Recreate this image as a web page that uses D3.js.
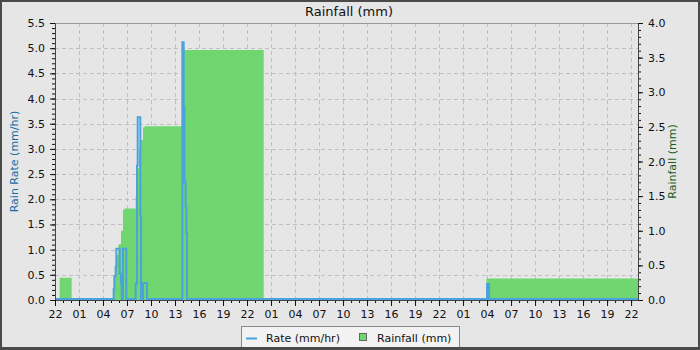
<!DOCTYPE html>
<html>
<head>
<meta charset="utf-8">
<script src="https://cdn.jsdelivr.net/npm/d3@7"></script>
<style>
  body { margin: 0; background: #e6e6e6; }
  text { font-family: "DejaVu Sans", sans-serif; }
</style>
</head>
<body>
<div id="container"></div>
<script>
// rain rate readings (mm/hr), left axis
const rateTimes = [
  "2024-01-01 22:00", "2024-01-02 05:15", "2024-01-02 05:20", "2024-01-02 05:25",
  "2024-01-02 05:35", "2024-01-02 05:40", "2024-01-02 06:00", "2024-01-02 06:05",
  "2024-01-02 06:15", "2024-01-02 06:20", "2024-01-02 06:30", "2024-01-02 06:50",
  "2024-01-02 06:55", "2024-01-02 08:00", "2024-01-02 08:05", "2024-01-02 08:15",
  "2024-01-02 08:20", "2024-01-02 08:35", "2024-01-02 08:40", "2024-01-02 08:45",
  "2024-01-02 09:00", "2024-01-02 09:25", "2024-01-02 09:30", "2024-01-02 13:50",
  "2024-01-02 13:55", "2024-01-02 14:05", "2024-01-02 14:10", "2024-01-02 14:20",
  "2024-01-02 14:25", "2024-01-02 14:30", "2024-01-04 03:55", "2024-01-04 04:00",
  "2024-01-04 04:10", "2024-01-04 04:15", "2024-01-04 22:52"
];
const rateValues = [
  0, 0, 0.2, 0.45,
  0.63, 1.0, 1.0, 0.5,
  0.3, 0, 1.0, 1.0,
  0, 0, 0.3, 2.65,
  3.61, 3.61, 1.65, 0,
  0.32, 0.32, 0, 0,
  5.1, 3.81, 2.32, 1.82,
  1.31, 0, 0, 0.3,
  0.3, 0, 0
];

// daily rainfall accumulation (mm), right axis, drawn as steps
const rainTimes = [
  "2024-01-01 22:35", "2024-01-02 00:05", "2024-01-02 05:15", "2024-01-02 05:25",
  "2024-01-02 05:30", "2024-01-02 05:40", "2024-01-02 05:55", "2024-01-02 06:00",
  "2024-01-02 06:15", "2024-01-02 06:30", "2024-01-02 06:40", "2024-01-02 08:05",
  "2024-01-02 08:15", "2024-01-02 08:30", "2024-01-02 08:45", "2024-01-02 09:00",
  "2024-01-02 09:10", "2024-01-02 13:55", "2024-01-02 14:05", "2024-01-03 00:05",
  "2024-01-04 03:55", "2024-01-04 22:52"
];
const rainValues = [
  0.32, 0, 0.13, 0.30,
  0.5, 0.65, 0.79, 0.81,
  1.0, 1.30, 1.32, 1.50,
  1.9, 2.2, 2.31, 2.49,
  2.51, 3.0, 3.61, 0,
  0.31, 0.31
];

const timeStart = "2024-01-01 22:00";
const timeEnd = "2024-01-04 22:52";
const rateTicks = [0, 0.5, 1.0, 1.5, 2.0, 2.5, 3.0, 3.5, 4.0, 4.5, 5.0, 5.5];
const rainTicks = [0, 0.5, 1.0, 1.5, 2.0, 2.5, 3.0, 3.5, 4.0];

const width = 700;
const height = 350;
const plotLeft = 55, plotRight = 638, plotTop = 23, plotBottom = 300;
const rateColor = "#4ba3dd";
const rainColor = "#6fd670";

const parse = d3.timeParse("%Y-%m-%d %H:%M");
const rate = rateTimes.map((t, i) => ({ t: parse(t), v: rateValues[i] }));
const rain = rainTimes.map((t, i) => ({ t: parse(t), v: rainValues[i] }));

const x = d3.scaleTime()
  .domain([parse(timeStart), parse(timeEnd)])
  .range([plotLeft, plotRight]);
const yRate = d3.scaleLinear().domain([0, 5.5]).range([plotBottom, plotTop]);
const yRain = d3.scaleLinear().domain([0, 4]).range([plotBottom, plotTop]);

const svg = d3.select("#container")
  .append("svg")
  .attr("width", width)
  .attr("height", height)
  .style("display", "block");

// outer frame
svg.append("rect")
  .attr("width", width).attr("height", height)
  .attr("fill", "#4a4a4a");
svg.append("rect")
  .attr("x", 2).attr("y", 2)
  .attr("width", width - 4).attr("height", height - 5)
  .attr("fill", "#e6e6e6");

svg.append("defs").append("clipPath").attr("id", "plot")
  .append("rect")
  .attr("x", plotLeft).attr("y", plotTop)
  .attr("width", plotRight - plotLeft).attr("height", plotBottom - plotTop);

// grid
const majorTimes = d3.timeHour.range(parse(timeStart), x.domain()[1], 3);
svg.append("g").selectAll("line")
  .data(rateTicks.slice(1))
  .join("line")
  .attr("x1", plotLeft).attr("x2", plotRight)
  .attr("y1", d => Math.round(yRate(d)) + 0.5).attr("y2", d => Math.round(yRate(d)) + 0.5)
  .attr("stroke", "#c0c0c0")
  .attr("stroke-dasharray", "4,3");
svg.append("g").selectAll("line")
  .data(majorTimes.slice(1))
  .join("line")
  .attr("x1", d => Math.round(x(d)) + 0.5).attr("x2", d => Math.round(x(d)) + 0.5)
  .attr("y1", plotTop).attr("y2", plotBottom)
  .attr("stroke", "#c0c0c0")
  .attr("stroke-dasharray", "4,3");

// rainfall steps
svg.append("path")
  .datum(rain)
  .attr("clip-path", "url(#plot)")
  .attr("fill", rainColor)
  .attr("d", d3.area()
    .curve(d3.curveStepAfter)
    .x(d => x(d.t))
    .y0(yRain(0))
    .y1(d => yRain(d.v)));

// rain rate line
svg.append("path")
  .datum(rate)
  .attr("clip-path", "url(#plot)")
  .attr("fill", "none")
  .attr("stroke", rateColor)
  .attr("stroke-width", 2)
  .attr("d", d3.line()
    .curve(d3.curveStepAfter)
    .x(d => x(d.t))
    .y(d => yRate(d.v) - 1));

// plot frame top
svg.append("line")
  .attr("x1", plotLeft).attr("x2", plotRight)
  .attr("y1", plotTop + 0.5).attr("y2", plotTop + 0.5)
  .attr("stroke", "#999");

// axes
function styleAxis(g) {
  g.selectAll("text").attr("font-size", 11).attr("fill", "#111");
  g.selectAll("line").attr("stroke", "#111");
  g.select(".domain").attr("stroke", "#444");
}

const minorRate = d3.range(0, 55.1, 1).map(d => d / 10);
const minorRain = d3.range(0, 40.1, 1).map(d => d / 10);
const minorTimes = d3.timeHour.range(parse(timeStart), x.domain()[1], 1);

svg.append("g")
  .attr("transform", `translate(${plotLeft},0)`)
  .call(d3.axisLeft(yRate).tickValues(minorRate).tickSize(3).tickFormat("").tickSizeOuter(0))
  .call(styleAxis);
svg.append("g")
  .attr("transform", `translate(${plotLeft},0)`)
  .call(d3.axisLeft(yRate).tickValues(rateTicks).tickSize(5).tickPadding(5)
    .tickFormat(d3.format(".1f")).tickSizeOuter(0))
  .call(styleAxis);

svg.append("g")
  .attr("transform", `translate(${plotRight},0)`)
  .call(d3.axisRight(yRain).tickValues(minorRain).tickSize(3).tickFormat("").tickSizeOuter(0))
  .call(styleAxis);
svg.append("g")
  .attr("transform", `translate(${plotRight},0)`)
  .call(d3.axisRight(yRain).tickValues(rainTicks).tickSize(5).tickPadding(5)
    .tickFormat(d3.format(".1f")).tickSizeOuter(0))
  .call(styleAxis);

svg.append("g")
  .attr("transform", `translate(0,${plotBottom})`)
  .call(d3.axisBottom(x).tickValues(minorTimes).tickSize(3).tickFormat("").tickSizeOuter(0))
  .call(styleAxis);
svg.append("g")
  .attr("transform", `translate(0,${plotBottom})`)
  .call(d3.axisBottom(x).tickValues(majorTimes).tickSize(6).tickPadding(4)
    .tickFormat(d3.timeFormat("%H")).tickSizeOuter(0))
  .call(styleAxis);

// titles
svg.append("text")
  .attr("x", 349).attr("y", 16)
  .attr("text-anchor", "middle")
  .attr("font-size", 13)
  .attr("fill", "#111")
  .text("Rainfall (mm)");

svg.append("text")
  .attr("transform", `translate(18,${(plotTop + plotBottom) / 2}) rotate(-90)`)
  .attr("text-anchor", "middle")
  .attr("font-size", 11)
  .attr("fill", "#156da6")
  .text("Rain Rate (mm/hr)");

svg.append("text")
  .attr("transform", `translate(676,${(plotTop + plotBottom) / 2}) rotate(-90)`)
  .attr("text-anchor", "middle")
  .attr("font-size", 11)
  .attr("fill", "#1b5e1b")
  .text("Rainfall (mm)");

// legend
const legend = svg.append("g");
legend.append("rect")
  .attr("x", 241.5).attr("y", 326.5)
  .attr("width", 218).attr("height", 24)
  .attr("fill", "#f2f2f2")
  .attr("stroke", "#888");
legend.append("line")
  .attr("x1", 246).attr("x2", 257)
  .attr("y1", 338.5).attr("y2", 338.5)
  .attr("stroke", rateColor)
  .attr("stroke-width", 2);
legend.append("text")
  .attr("x", 266).attr("y", 342)
  .attr("font-size", 11)
  .attr("fill", "#111")
  .text("Rate (mm/hr)");
legend.append("rect")
  .attr("x", 359.5).attr("y", 333.5)
  .attr("width", 7).attr("height", 7)
  .attr("fill", rainColor)
  .attr("stroke", "#666");
legend.append("text")
  .attr("x", 377).attr("y", 342)
  .attr("font-size", 11)
  .attr("fill", "#111")
  .text("Rainfall (mm)");

// frame over the legend bottom
svg.append("rect")
  .attr("x", 0).attr("y", height - 3)
  .attr("width", width).attr("height", 3)
  .attr("fill", "#4a4a4a");
</script>
</body>
</html>
